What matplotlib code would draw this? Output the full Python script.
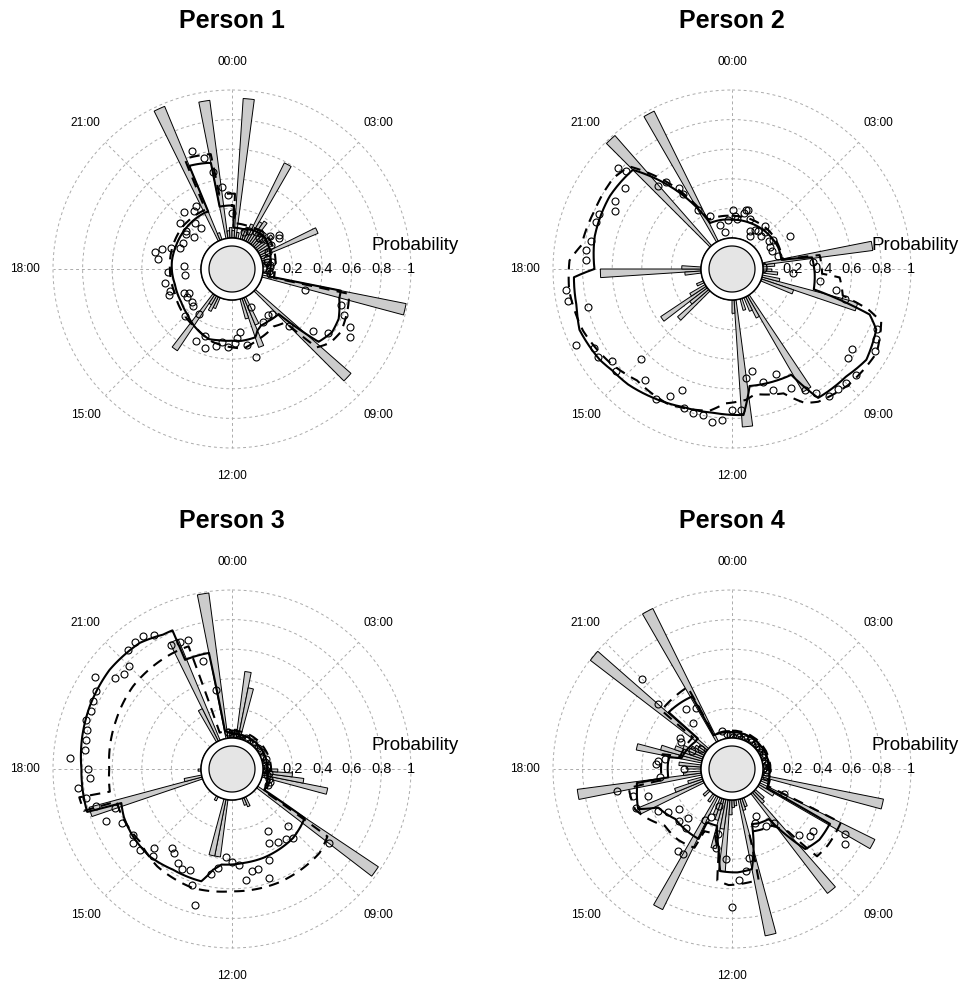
import numpy as np
import matplotlib
matplotlib.use("Agg")
import matplotlib.pyplot as plt

plt.rcParams['font.family'] = ['Liberation Sans', 'DejaVu Sans']

# ---------------- Person 1 ----------------
p1_bar_hours = [22.375, 23.375, 0.375, 1.875, 4.375, 6.875, 8.875, 10.625, 14.375,
                23.625, 23.875, 0.125, 0.625, 1.125, 1.375, 1.625, 2.125, 2.375, 2.625,
                2.875, 3.125, 3.375, 3.625, 3.875, 4.125, 4.625, 5.125, 5.625, 6.375,
                10.375, 10.875, 13.625, 13.875, 14.125, 22.625]
p1_bar_probs = [0.98, 0.94, 0.945, 0.59, 0.42, 0.99, 0.86, 0.35, 0.455,
                0.05, 0.07, 0.05, 0.04, 0.06, 0.09, 0.12, 0.16, 0.18, 0.10,
                0.12, 0.09, 0.14, 0.08, 0.10, 0.06, 0.05, 0.06, 0.04, 0.04,
                0.20, 0.14, 0.08, 0.11, 0.07, 0.05]
p1_solid_hours = [0.0, 0.12, 0.12, 1.0, 2.0, 3.0, 4.0, 5.0, 6.0, 6.75, 6.75, 7.02, 7.67,
                  8.15, 8.67, 8.93, 9.7, 10.2, 10.5, 10.74, 11.5, 12.0, 12.7, 13.22,
                  14.15, 15.0, 15.8, 16.47, 17.0, 17.8, 18.5, 19.5, 20.7, 21.5, 22.3,
                  22.5, 22.5, 23.17, 23.25, 23.25, 24.0]
p1_solid_probs = [0.22, 0.22, 0.07, 0.07, 0.09, 0.10, 0.08, 0.06, 0.05, 0.05, 0.54, 0.542,
                  0.586, 0.59, 0.555, 0.229, 0.22, 0.22, 0.24, 0.278, 0.28, 0.275, 0.28,
                  0.289, 0.256, 0.22, 0.20, 0.194, 0.19, 0.196, 0.20, 0.20, 0.206, 0.21,
                  0.213, 0.21, 0.545, 0.525, 0.52, 0.22, 0.22]
p1_dash_hours = [0.0, 0.15, 0.15, 1.5, 3.0, 4.5, 6.0, 6.8, 6.8, 7.33, 8.0, 8.47, 8.85,
                 9.0, 9.6, 10.7, 11.44, 12.0, 13.0, 14.0, 15.0, 16.5, 18.0, 19.5, 20.7,
                 22.4, 22.45, 23.3, 23.35, 24.0]
p1_dash_probs = [0.30, 0.30, 0.10, 0.10, 0.12, 0.10, 0.08, 0.08, 0.60, 0.62, 0.64, 0.62,
                 0.57, 0.30, 0.27, 0.30, 0.333, 0.32, 0.30, 0.26, 0.24, 0.21, 0.21, 0.22,
                 0.23, 0.23, 0.60, 0.58, 0.30, 0.30]
p1_pt_hours = [22.75, 23.05, 23.26, 23.54, 23.78, 0.0, 22.03, 21.3, 20.74, 21.38, 21.5,
               20.64, 20.49, 19.85, 19.45, 19.25, 19.07, 18.82, 18.51, 18.26, 3.27, 3.6,
               3.75, 2.78, 5.37, 5.8, 21.77, 20.63, 17.85, 15.08, 15.0,
               17.22, 16.7, 16.5, 17.52, 16.24, 16.04, 15.85, 15.35, 14.43, 13.78, 13.24,
               13.45, 12.79, 12.52, 12.21, 11.86, 11.73, 11.5, 11.25, 10.98, 10.24, 10.0,
               9.45, 9.23, 9.0, 7.06, 8.49, 8.25, 7.21, 7.49, 7.76, 7.99,
               1.2, 1.6, 2.2, 2.5, 3.0, 3.9, 4.3, 4.9, 5.2, 5.6, 6.2, 6.5]
p1_pt_probs = [0.634, 0.565, 0.456, 0.351, 0.291, 0.169, 0.277, 0.294, 0.26, 0.189, 0.136,
               0.127, 0.18, 0.167, 0.166, 0.223, 0.282, 0.32, 0.295, 0.118, 0.133, 0.18,
               0.17, 0.068, 0.064, 0.045, 0.257, 0.19, 0.223, 0.155, 0.243,
               0.255, 0.232, 0.253, 0.113, 0.155, 0.121, 0.15, 0.142, 0.169, 0.333, 0.354,
               0.275, 0.32, 0.29, 0.316, 0.29, 0.26, 0.222, 0.314, 0.405, 0.08, 0.206,
               0.183, 0.197, 0.339, 0.30, 0.476, 0.57, 0.565, 0.606, 0.678, 0.708,
               0.05, 0.07, 0.09, 0.10, 0.08, 0.10, 0.06, 0.04, 0.03, 0.05, 0.04, 0.05]

# ---------------- Person 2 ----------------
p2_bar_hours = [22.125, 21.125, 5.375, 17.875, 15.625, 15.125, 11.625, 9.875, 7.125, 7.375,
                17.625, 18.125, 15.375, 15.875, 16.375, 11.875, 10.125, 10.375, 10.875,
                6.125, 5.625, 6.375, 6.875]
p2_bar_probs = [0.98, 0.99, 0.75, 0.68, 0.37, 0.28, 0.86, 0.75, 0.67, 0.23,
                0.11, 0.13, 0.15, 0.12, 0.05, 0.09, 0.16, 0.10, 0.08,
                0.06, 0.08, 0.10, 0.12]
p2_solid_hours = [0.0, 1.5, 3.0, 4.3, 5.3, 5.45, 6.2, 6.93, 7.22, 7.52, 8.27, 8.88, 9.75,
                  10.05, 10.7, 11.43, 11.7, 12.5, 13.3, 14.2, 14.8, 15.3, 15.7, 16.55, 17.1,
                  17.8, 18.0, 18.9, 20.05, 21.0, 21.65, 22.3, 23.2, 24.0]
p2_solid_probs = [0.124, 0.125, 0.13, 0.135, 0.13, 0.337, 0.35, 0.36, 0.77, 0.848, 0.886,
                  0.85, 0.838, 0.61, 0.60, 0.59, 0.78, 0.77, 0.78, 0.815, 0.84, 0.85, 0.874,
                  0.90, 0.87, 0.86, 0.72, 0.744, 0.752, 0.738, 0.44, 0.135, 0.13, 0.124]
p2_dash_hours = [0.0, 3.0, 4.6, 5.3, 5.4, 6.2, 6.3, 6.9, 7.1, 7.3, 8.0, 9.0, 9.8, 10.1,
                 10.5, 11.3, 11.6, 12.2, 12.6, 13.7, 14.7, 15.5, 16.5, 17.5, 18.2, 18.6,
                 19.5, 20.5, 21.0, 21.6, 22.3, 24.0]
p2_dash_probs = [0.15, 0.15, 0.14, 0.14, 0.39, 0.40, 0.52, 0.56, 0.75, 0.86, 0.92, 0.90,
                 0.86, 0.82, 0.70, 0.65, 0.68, 0.70, 0.76, 0.80, 0.78, 0.83, 0.88, 0.90,
                 0.89, 0.82, 0.80, 0.80, 0.77, 0.50, 0.16, 0.15]
p2_pt_hours = [20.77, 20.86, 20.48, 20.0, 19.75, 19.5, 19.27, 18.74, 18.49, 18.24, 17.51,
               17.26, 17.01, 16.27, 16.02, 15.78, 15.49, 15.23, 15.01, 14.53, 14.03, 13.75,
               13.5, 13.28, 13.01, 12.75, 12.5, 12.25, 11.99, 11.75, 11.5, 11.25, 10.98,
               10.75, 10.49, 10.23, 9.93, 9.72, 9.51, 9.23, 8.99, 8.5, 8.24, 8.69, 8.0,
               7.73, 7.5, 6.75, 6.99, 5.69, 6.25, 4.0, 3.63, 2.49, 2.03, 1.95, 0.92, 0.78,
               0.07, 0.2, 23.25, 22.96, 22.47, 22.01, 21.8, 21.77, 21.51, 21.23, 3.98,
               4.97, 2.3, 2.79, 1.0, 1.71, 2.82, 3.52, 4.36, 0.4, 1.3, 23.7, 6.5]
p2_pt_probs = [0.82, 0.766, 0.696, 0.705, 0.674, 0.766, 0.76, 0.764, 0.783, 0.781, 0.923,
               0.92, 0.797, 0.96, 0.867, 0.874, 0.812, 0.834, 0.654, 0.744, 0.81, 0.744,
               0.674, 0.785, 0.799, 0.798, 0.835, 0.811, 0.745, 0.743, 0.533, 0.491, 0.584,
               0.651, 0.557, 0.689, 0.742, 0.804, 0.868, 0.872, 0.881, 0.778, 0.767, 0.893,
               0.903, 0.87, 0.851, 0.509, 0.583, 0.34, 0.204, 0.24, 0.131, 0.154, 0.093,
               0.043, 0.199, 0.177, 0.19, 0.15, 0.043, 0.101, 0.177, 0.253, 0.398, 0.446,
               0.528, 0.544, 0.085, 0.113, 0.10, 0.087, 0.205, 0.078, 0.125, 0.107, 0.088,
               0.13, 0.15, 0.12, 0.393]

# ---------------- Person 3 ----------------
p3_bar_hours = [23.375, 22.375, 22.125, 0.625, 0.875, 6.875, 6.625, 6.375, 6.125, 8.375,
                12.625, 12.875, 10.375, 10.625, 13.875, 16.875, 17.125, 17.875, 23.625,
                23.875, 0.125, 0.375, 1.125]
p3_bar_probs = [0.99, 0.74, 0.245, 0.455, 0.35, 0.45, 0.28, 0.20, 0.10, 0.98,
                0.39, 0.39, 0.067, 0.05, 0.03, 0.79, 0.12, 0.02, 0.06,
                0.05, 0.04, 0.06, 0.03]
p3_solid_hours = [0.0, 2.0, 4.0, 6.0, 7.0, 8.2, 8.27, 9.23, 10.72, 11.5, 12.42, 12.71, 13.02,
                  14.03, 14.89, 15.72, 16.4, 16.86, 16.9, 18.0, 18.82, 19.59, 20.6, 21.59,
                  22.19, 22.45, 22.45, 23.25, 23.3, 24.0]
p3_solid_probs = [0.03, 0.03, 0.03, 0.03, 0.04, 0.05, 0.383, 0.413, 0.427, 0.43, 0.44,
                  0.483, 0.577, 0.579, 0.602, 0.60, 0.59, 0.573, 0.811, 0.808, 0.826,
                  0.841, 0.855, 0.846, 0.811, 0.81, 0.593, 0.59, 0.05, 0.03]
p3_dash_hours = [0.0, 4.0, 8.3, 8.35, 8.92, 10.5, 12.0, 13.21, 14.5, 15.46, 16.5, 16.95,
                 16.95, 17.3, 17.3, 18.0, 19.5, 20.66, 22.2, 22.7, 22.75, 24.0]
p3_dash_probs = [0.05, 0.05, 0.06, 0.58, 0.61, 0.62, 0.617, 0.637, 0.62, 0.583, 0.60, 0.60,
                 0.83, 0.84, 0.63, 0.62, 0.64, 0.662, 0.67, 0.67, 0.05, 0.05]
p3_pt_hours = [21.75, 22.0, 21.5, 21.25, 22.27, 22.5, 22.75, 23.0, 23.23, 21.0, 20.75, 20.52,
               20.25, 20.0, 19.73, 19.49, 19.24, 19.01, 18.75, 18.5, 18.26, 18.0, 17.76,
               17.53, 17.25, 17.0, 16.49, 16.77, 16.25, 15.76, 15.55, 15.26, 14.99, 14.81,
               14.47, 14.32, 13.99, 13.76, 13.5, 13.26, 13.0, 12.75, 12.53, 12.27, 12.0,
               11.73, 11.51, 11.25, 11.03, 10.75, 10.52, 10.0, 10.23, 9.86, 9.5, 9.01, 9.23,
               8.49,
               0.15, 0.45, 0.75, 1.0, 1.3, 1.6, 1.9, 2.2, 2.5, 2.8, 3.1, 3.4, 3.7, 4.0, 4.3,
               4.6, 4.9, 5.2, 5.5, 5.8, 6.1, 6.4, 6.7, 7.0, 7.3, 7.6, 23.6, 23.8]
p3_pt_probs = [0.873, 0.838, 0.869, 0.856, 0.725, 0.716, 0.714, 0.548, 0.338, 0.77, 0.765,
               0.794, 0.907, 0.85, 0.835, 0.818, 0.834, 0.806, 0.799, 0.795, 0.89, 0.764,
               0.75, 0.839, 0.798, 0.744, 0.71, 0.626, 0.616, 0.593, 0.626, 0.619, 0.542,
               0.586, 0.459, 0.482, 0.523, 0.545, 0.527, 0.617, 0.744, 0.511, 0.466, 0.387,
               0.421, 0.439, 0.545, 0.495, 0.489, 0.568, 0.452, 0.277, 0.349, 0.375, 0.386,
               0.33, 0.412, 0.615,
               0.01, 0.02, 0.00, 0.01, 0.00, 0.02, 0.01, 0.00, 0.02, 0.01, 0.00, 0.02, 0.01,
               0.02, 0.00, 0.01, 0.03, 0.02, 0.01, 0.03, 0.02, 0.04, 0.03, 0.05, 0.06, 0.06,
               0.04, 0.02]

# ---------------- Person 4 ----------------
p4_bar_hours = [22.125, 20.625, 18.875, 19.125, 17.375, 16.375, 13.875, 12.875, 12.375,
                11.125, 9.375, 7.875, 6.875,
                13.125, 13.375, 12.625, 12.125, 11.875, 11.625, 10.875, 10.625, 9.125,
                8.875, 8.125, 7.375, 7.125, 16.625, 16.875, 17.625, 18.125, 18.375, 19.375,
                19.625, 19.875, 20.125, 20.375, 23.625, 15.125, 14.375]
p4_bar_probs = [1.0, 0.997, 0.45, 0.29, 0.845, 0.475, 0.85, 0.34, 0.485,
                0.94, 0.85, 0.867, 0.834,
                0.15, 0.12, 0.20, 0.10, 0.05, 0.04, 0.08, 0.06, 0.10,
                0.08, 0.12, 0.05, 0.04, 0.20, 0.10, 0.12, 0.10, 0.15, 0.20,
                0.15, 0.10, 0.08, 0.06, 0.05, 0.05, 0.06]
p4_solid_hours = [0.0, 2.0, 4.0, 6.0, 7.0, 7.9, 7.95, 8.03, 8.6, 9.17, 9.58, 10.2, 10.67,
                  11.25, 11.8, 12.44, 12.63, 12.99, 13.67, 13.7, 14.29, 15.24, 16.17, 16.46,
                  17.2, 17.44, 17.5, 18.7, 18.8, 20.4, 20.79, 20.79, 22.08, 22.1, 24.0]
p4_solid_probs = [0.04, 0.04, 0.04, 0.04, 0.05, 0.06, 0.55, 0.548, 0.55, 0.524, 0.21, 0.20,
                  0.186, 0.48, 0.49, 0.485, 0.338, 0.187, 0.188, 0.314, 0.309, 0.301, 0.354,
                  0.48, 0.447, 0.44, 0.225, 0.225, 0.14, 0.10, 0.10, 0.365, 0.35, 0.05, 0.04]
p4_dash_hours = [0.0, 6.0, 7.7, 7.75, 8.1, 8.56, 9.05, 9.2, 9.6, 10.5, 11.0, 11.1, 12.11,
                 12.5, 12.6, 13.0, 13.6, 13.7, 14.49, 15.33, 16.19, 16.5, 17.3, 17.4, 18.8,
                 18.9, 20.6, 20.65, 21.5, 22.1, 22.15, 24.0]
p4_dash_probs = [0.05, 0.05, 0.06, 0.61, 0.613, 0.618, 0.614, 0.36, 0.26, 0.24, 0.23, 0.56,
                 0.575, 0.55, 0.36, 0.24, 0.25, 0.38, 0.392, 0.385, 0.474, 0.50, 0.50, 0.27,
                 0.27, 0.15, 0.13, 0.41, 0.414, 0.42, 0.05, 0.05]
p4_pt_hours = [21.0, 20.75, 21.51, 21.95, 21.31, 20.04, 19.85, 19.6, 20.21, 18.56, 18.25,
               18.0, 17.56, 17.27, 16.97, 16.8, 16.53, 16.01, 15.73, 15.54, 15.03, 14.79,
               14.51, 14.22, 14.0, 13.89, 13.55, 12.75, 13.3, 12.24, 11.47, 11.76, 12.0,
               10.19, 10.48, 9.97, 9.47, 8.96, 8.73, 8.51, 7.99, 8.23, 7.7, 6.75, 12.81,
               11.28, 18.43, 23.05,
               0.1, 0.35, 0.6, 0.85, 1.1, 1.35, 1.6, 1.85, 2.1, 2.35, 2.6, 2.85, 3.1, 3.35,
               3.6, 3.85, 4.1, 4.35, 4.6, 4.85, 5.1, 5.35, 5.6, 5.85, 6.1, 6.35, 23.5, 23.8]
p4_pt_probs = [0.655, 0.456, 0.30, 0.27, 0.198, 0.20, 0.177, 0.084, 0.038, 0.25, 0.303,
               0.117, 0.282, 0.582, 0.482, 0.387, 0.493, 0.367, 0.313, 0.241, 0.294, 0.236,
               0.295, 0.456, 0.453, 0.18, 0.146, 0.335, 0.053, 0.40, 0.489, 0.544, 0.725,
               0.15, 0.186, 0.24, 0.253, 0.424, 0.485, 0.481, 0.668, 0.704, 0.177, 0.022,
               0.238, 0.403, 0.293, 0.058,
               0.01, 0.00, 0.02, 0.01, 0.00, 0.02, 0.01, 0.00, 0.02, 0.01, 0.00, 0.02, 0.01,
               0.00, 0.02, 0.01, 0.00, 0.02, 0.01, 0.00, 0.02, 0.01, 0.02, 0.01, 0.03, 0.02,
               0.03, 0.02]

clock_hours = [0, 3, 9, 12, 15, 18, 21]
clock_labels = ['00:00', '03:00', '09:00', '12:00', '15:00', '18:00', '21:00']
prob_ticks = [0.0, 0.2, 0.4, 0.6, 0.8, 1.0]
prob_tick_labels = ['0', '0.2', '0.4', '0.6', '0.8', '1']

W, H = 963, 986
R_PX = 179          # radius of the outer grid circle
HOLE_PX = 31        # radius of the zero ring
DISK_PX = 23        # radius of the grey centre disk
RORIGIN = -HOLE_PX / (R_PX - HOLE_PX)


def to_theta(hours):
    return np.asarray(hours, dtype=float) / 24.0 * 2 * np.pi


def curved(line):
    # let the polar transform bend the segments into arcs/spirals
    line.get_path()._interpolation_steps = 60
    return line


def draw_panel(fig, cx, cy, title, bars, solid, dashed, points):
    rect = [(cx - R_PX) / W, (H - cy - R_PX) / H, 2 * R_PX / W, 2 * R_PX / H]
    ax = fig.add_axes(rect, projection='polar')
    ax.set_theta_zero_location('N')
    ax.set_theta_direction(-1)
    ax.patch.set_visible(False)
    for sp in ax.spines.values():
        sp.set_visible(False)

    ax.set_xticks(to_theta(np.arange(0, 24, 3)))
    ax.set_xticklabels([])
    ax.set_yticks([0.2, 0.4, 0.6, 0.8, 1.0])
    ax.set_yticklabels([])
    ax.tick_params(length=0)
    ax.set_axisbelow(True)
    ax.grid(True, color='#ababab', linestyle=(0, (3, 3)), linewidth=0.7, clip_on=False)

    ax.bar(to_theta(bars[0]), bars[1], width=2 * np.pi / 96, bottom=0.0,
           color='#cccccc', edgecolor='black', linewidth=0.7, zorder=2, clip_on=False)

    curved(ax.plot(to_theta(solid[0]), solid[1], color='black', lw=1.5,
                   zorder=3, clip_on=False)[0])
    curved(ax.plot(to_theta(dashed[0]), dashed[1], color='black', lw=1.5,
                   linestyle=(0, (5, 3.5)), zorder=3, clip_on=False)[0])
    ax.plot(to_theta(points[0]), points[1], 'o', ms=5, mfc='none', mec='black',
            mew=0.8, zorder=4, clip_on=False)

    ring = np.linspace(0, 2 * np.pi, 361)
    ax.fill(ring, np.zeros_like(ring), facecolor='white', edgecolor='black',
            linewidth=1.1, zorder=6, clip_on=False)
    disk_r = (DISK_PX - HOLE_PX) / (R_PX - HOLE_PX)
    ax.fill(ring, np.full_like(ring, disk_r), facecolor='#e5e5e5', edgecolor='black',
            linewidth=0.9, zorder=7, clip_on=False)

    for h, lab in zip(clock_hours, clock_labels):
        ax.text(to_theta(h), 1.19, lab, ha='center', va='center', fontsize=8.6)
    for v, lab in zip(prob_ticks, prob_tick_labels):
        ax.text(np.pi / 2, v, lab, ha='center', va='center', fontsize=10.5, zorder=2.5)
    ax.text(0.5 + 183 / (2 * R_PX), 0.5 + 23 / (2 * R_PX), 'Probability',
            transform=ax.transAxes, ha='center', va='center', fontsize=13.5)

    ax.set_ylim(0, 1)
    ax.set_rorigin(RORIGIN)
    for gl in ax.xaxis.get_gridlines() + ax.yaxis.get_gridlines():
        gl.set_clip_on(False)

    fig.text(cx / W, 1 - (cy - 241) / H, title, ha='center', va='baseline',
             fontsize=18, fontweight='bold')
    return ax


def main():
    fig = plt.figure(figsize=(W / 100, H / 100), dpi=100)
    draw_panel(fig, 232, 269, 'Person 1',
               (p1_bar_hours, p1_bar_probs), (p1_solid_hours, p1_solid_probs),
               (p1_dash_hours, p1_dash_probs), (p1_pt_hours, p1_pt_probs))
    draw_panel(fig, 732, 269, 'Person 2',
               (p2_bar_hours, p2_bar_probs), (p2_solid_hours, p2_solid_probs),
               (p2_dash_hours, p2_dash_probs), (p2_pt_hours, p2_pt_probs))
    draw_panel(fig, 232, 769, 'Person 3',
               (p3_bar_hours, p3_bar_probs), (p3_solid_hours, p3_solid_probs),
               (p3_dash_hours, p3_dash_probs), (p3_pt_hours, p3_pt_probs))
    draw_panel(fig, 732, 769, 'Person 4',
               (p4_bar_hours, p4_bar_probs), (p4_solid_hours, p4_solid_probs),
               (p4_dash_hours, p4_dash_probs), (p4_pt_hours, p4_pt_probs))
    fig.savefig('out.png', dpi=100)


if __name__ == '__main__':
    main()
